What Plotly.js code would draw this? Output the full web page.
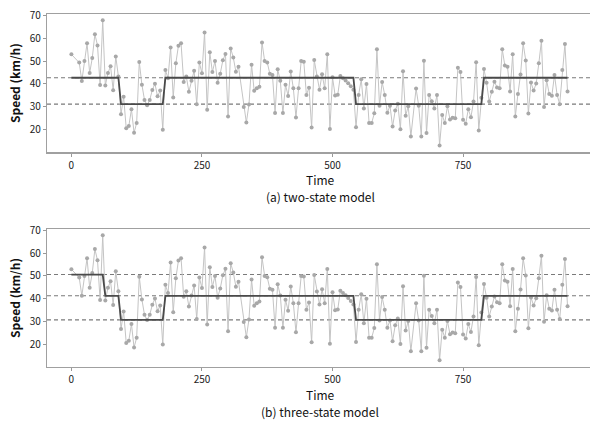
<!DOCTYPE html>
<html>
<head>
<meta charset="utf-8">
<script src="https://cdn.plot.ly/plotly-3.0.1.min.js"></script>
<style>html,body{margin:0;padding:0;background:#fff;}#chart{width:590px;height:423px;}</style>
</head>
<body>
<div id="chart"></div>
<script>
// ---- data ----
const times = [0,15,20,25,30,35,40,45,50,55,60,65,70,75,80,85,90,95,100,105,110,115,120,125,130,135,140,145,150,155,160,165,170,175,180,185,190,195,200,205,210,215,220,225,230,235,240,245,250,255,260,265,270,275,280,285,290,295,300,305,310,315,320,330,335,340,345,350,355,360,365,370,375,380,385,390,395,400,405,410,415,420,425,430,435,440,445,450,455,460,465,470,475,480,485,490,495,500,505,510,515,520,525,530,535,540,545,550,555,560,565,570,575,580,585,590,595,600,605,610,615,620,625,630,635,640,645,650,660,665,670,675,680,685,690,695,700,705,710,715,720,725,730,735,740,745,750,755,760,765,770,775,780,785,790,795,800,805,810,815,820,825,830,835,840,845,850,855,860,865,870,875,880,885,890,895,900,905,910,915,920,925,930,935,940,945,950];
const speeds = [52.9,49.3,41.3,50.0,57.7,44.8,51.3,61.7,56.8,39.5,67.8,39.3,44.8,47.7,37.3,52.0,43.3,26.8,34.4,20.7,21.7,29.0,18.7,23.0,49.6,39.7,33.0,30.7,33.0,37.4,40.1,34.6,37.1,20.0,46.1,42.5,55.9,34.1,49.0,56.7,57.7,40.9,43.3,36.6,41.4,45.8,31.2,49.3,44.7,62.4,28.8,53.8,45.2,50.0,40.5,44.5,50.3,53.1,25.8,55.5,51.5,45.3,47.5,29.9,23.2,31.0,48.4,37.0,38.1,38.8,58.1,50.0,49.4,44.4,43.9,27.3,46.4,41.4,27.3,39.6,34.8,45.4,38.1,25.4,38.1,50.0,49.7,35.2,38.4,21.0,50.4,43.2,37.5,44.2,38.1,53.0,20.4,42.9,35.0,35.3,43.5,42.5,41.5,40.3,39.0,37.5,21.1,35.2,42.0,29.3,40.0,23.0,23.0,27.2,55.1,30.5,40.8,35.2,27.4,30.5,21.4,28.4,31.4,20.2,45.5,26.1,30.3,17.1,38.0,30.5,17.1,50.1,18.6,35.2,32.5,29.3,35.2,13.2,26.5,23.0,30.3,24.5,25.3,25.0,47.1,45.2,24.4,22.6,29.0,25.5,32.3,49.5,19.7,34.0,46.5,40.5,32.3,36.6,41.0,38.5,38.1,55.1,48.0,47.5,36.7,53.0,25.8,35.6,44.1,57.7,50.2,27.1,40.6,37.1,40.2,49.0,58.8,30.0,41.6,35.6,34.9,43.9,35.2,31.2,46.1,57.4,36.7];

const twoStateLevels = {high: 42.7, low: 31.2};
const twoStateRuns = [[0,90,'high'],[95,175,'low'],[180,540,'high'],[545,785,'low'],[790,950,'high']];
const threeStateLevels = {high: 50.6, mid: 41.3, low: 30.8};
const threeStateRuns = [[0,60,'high'],[65,90,'mid'],[95,175,'low'],[180,540,'mid'],[545,785,'low'],[790,950,'mid']];

const xTicks = [0,250,500,750];
const yTicks = [20,30,40,50,60,70];
const yTitle = 'Speed (km/h)';
const xTitle = 'Time';
const captions = ['(a) two-state model','(b) three-state model'];

// ---- build ----
function stateSeries(runs, levels){
  return times.map(t => { const r = runs.find(q => t >= q[0] && t <= q[1]); return levels[r[2]]; });
}
const FONT = '"Noto Sans CJK KR", "Noto Sans", sans-serif';

function obsTrace(xa, ya){
  return {x: times, y: speeds, xaxis: xa, yaxis: ya, type: 'scatter', mode: 'lines+markers',
    line: {color: '#c4c4c4', width: 1}, marker: {color: '#a8a8a8', size: 4}, hoverinfo: 'skip', showlegend: false};
}
function stateTrace(xa, ya, ys){
  return {x: times, y: ys, xaxis: xa, yaxis: ya, type: 'scatter', mode: 'lines',
    line: {color: '#4a4a4a', width: 1.8}, hoverinfo: 'skip', showlegend: false};
}
const data = [
  obsTrace('x','y'), stateTrace('x','y', stateSeries(twoStateRuns, twoStateLevels)),
  obsTrace('x2','y2'), stateTrace('x2','y2', stateSeries(threeStateRuns, threeStateLevels))
];

function dashLines(xref, yref, levels){
  return Object.values(levels).map(v => ({type:'line', xref: xref + ' domain', x0:0, x1:1, yref: yref, y0:v, y1:v,
    line:{color:'#7a7a7a', width:1.1, dash:'4px,3px'}, layer:'below'}));
}

function xAxis(anchor){
  return {anchor: anchor, domain:[0,1], range:[-46.7, 993], tickvals: xTicks, ticks:'outside', ticklen:3, tickcolor:'#999',
    showline:true, linecolor:'#a0a0a0', linewidth:1.2, mirror:true, showgrid:false, zeroline:false,
    tickfont:{family:FONT, size:10, color:'#222'}};
}
function yAxis(anchor, domain){
  return {anchor: anchor, domain: domain, range:[10.2, 70.5], tickvals: yTicks, ticks:'outside', ticklen:3, tickcolor:'#999',
    showline:true, linecolor:'#a0a0a0', linewidth:1.2, mirror:true, showgrid:false, zeroline:false,
    tickfont:{family:FONT, size:10, color:'#222'},
    title:{text:'<b>' + yTitle + '</b>', font:{family:FONT, size:12, color:'#111'}, standoff:6}};
}

function ann(text, y){
  return {text: text, x:0.503, y: y, xref:'paper', yref:'paper', xanchor:'center', yanchor:'middle', showarrow:false,
    font:{family:FONT, size:12, color:'#111'}};
}
const annotations = [
  ann(xTitle, 0.530), ann(captions[0], 0.4816),
  ann(xTitle, -0.0765), ann(captions[1], -0.1249)
];

const layout = {
  width:590, height:423, margin:{l:47, r:0, t:14, b:56},
  paper_bgcolor:'#fff', plot_bgcolor:'#fff', showlegend:false,
  xaxis: xAxis('y'), yaxis: yAxis('x', [0.6082, 1]),
  xaxis2: xAxis('y2'), yaxis2: yAxis('x2', [0, 0.391]),
  shapes: dashLines('x','y', twoStateLevels).concat(dashLines('x2','y2', threeStateLevels)),
  annotations: annotations
};
Plotly.newPlot('chart', data, layout, {staticPlot:true, displayModeBar:false});
</script>
</body>
</html>
